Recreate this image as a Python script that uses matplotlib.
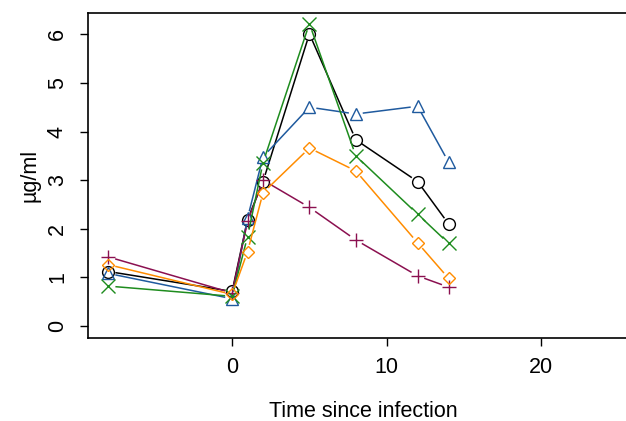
import numpy as np
import matplotlib
matplotlib.use("Agg")
import matplotlib.pyplot as plt

plt.rcParams['font.family'] = ['Liberation Sans', 'DejaVu Sans']

# sampling times (days since infection)
days = [-8, 0, 1, 2, 5, 8, 12, 14]

# one concentration profile per subject, µg/ml
subj_black = [1.12, 0.71, 2.19, 2.97, 6.01, 3.83, 2.97, 2.10]
subj_blue = [1.08, 0.56, 2.22, 3.48, 4.50, 4.36, 4.52, 3.37]
subj_green = [0.82, 0.61, 1.84, 3.36, 6.22, 3.50, 2.30, 1.70]
subj_orange = [1.26, 0.65, 1.53, 2.74, 3.66, 3.19, 1.71, 0.98]
subj_purple = [1.42, 0.68, 2.15, 3.00, 2.44, 1.77, 1.03, 0.80]

series = [
    (subj_black, 'black', 'o'),
    (subj_blue, '#1F5A9E', '^'),
    (subj_purple, '#8B1050', '+'),
    (subj_green, '#1E8C1E', 'x'),
    (subj_orange, '#FF8C00', 'D'),
]

fig = plt.figure(figsize=(6.26, 4.21), dpi=100)
ax = fig.add_axes([0.1406, 0.1971, 0.8802, 0.7732])
ax.set_xlim(-9.32, 26.32)
ax.set_ylim(-0.248, 6.448)

# R-style type="b": segments stop short of each point
gap = 7.0  # pixels
for vals, col, mk in series:
    pts = ax.transData.transform(np.column_stack([days, vals]))
    for p0, p1 in zip(pts[:-1], pts[1:]):
        d = p1 - p0
        L = np.hypot(*d)
        if L <= 2 * gap:
            continue
        u = d / L
        seg = ax.transData.inverted().transform([p0 + u * gap, p1 - u * gap])
        ax.plot(seg[:, 0], seg[:, 1], color=col, lw=1.1, solid_capstyle='butt')
    ms = {'o': 8.5, '^': 8.5, '+': 10, 'x': 9.5, 'D': 6.5}[mk]
    ax.plot(days, vals, linestyle='none', marker=mk, ms=ms, mfc='none',
            mec=col, mew=1.0)

ax.set_xticks([0, 10, 20])
ax.set_yticks([0, 1, 2, 3, 4, 5, 6])
ax.tick_params(direction='out', length=6, width=1.0, labelsize=15.5)
ax.tick_params(axis='x', pad=8)
ax.tick_params(axis='y', pad=8.5)
for lab in ax.get_yticklabels():
    lab.set_rotation(90)
    lab.set_va('center')
for s in ax.spines.values():
    s.set_linewidth(1.2)

ax.set_xlabel('Time since infection', fontsize=15.5, labelpad=16)
ax.set_ylabel('µg/ml', fontsize=15.5, labelpad=4.5)

fig.savefig('out.png', dpi=100)
